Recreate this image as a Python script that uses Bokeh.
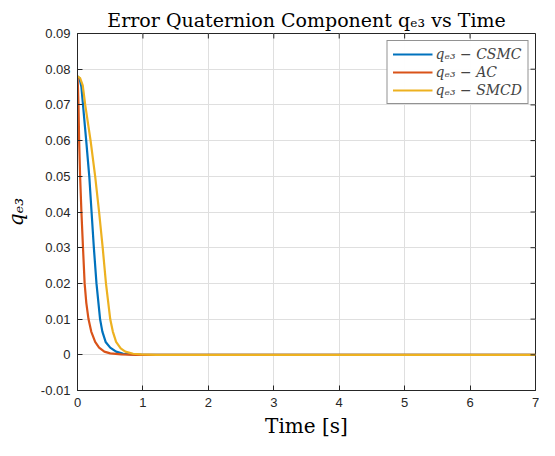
import math
from bokeh.plotting import figure
from bokeh.models import (FixedTicker, CustomJSTickFormatter, Range1d,
                          Legend, LegendItem)
from bokeh.embed import file_html
from bokeh.resources import INLINE

# ---- data ----
t_ac = [0, 0.005, 0.015, 0.025, 0.04, 0.06, 0.084, 0.109, 0.135, 0.168, 0.21,
        0.27, 0.33, 0.41, 0.5, 0.67, 0.9, 7.0]
q_ac = [0.078, 0.076, 0.07, 0.06, 0.05, 0.04, 0.03, 0.02, 0.0145, 0.01, 0.0065,
        0.0036, 0.002, 0.0009, 0.0004, 0.0001, 0.0, 0.0]

t_csmc = [0, 0.03, 0.06, 0.084, 0.133, 0.18, 0.215, 0.25, 0.29, 0.345, 0.38,
          0.43, 0.5, 0.59, 0.7, 0.82, 1.0, 7.0]
q_csmc = [0.078, 0.0775, 0.075, 0.07, 0.06, 0.05, 0.04, 0.03, 0.02, 0.01, 0.0065,
          0.0036, 0.002, 0.0009, 0.0003, 0.0001, 0.0, 0.0]

t_smcd = [0, 0.04, 0.08, 0.118, 0.2, 0.27, 0.33, 0.385, 0.435, 0.5, 0.54,
          0.59, 0.66, 0.73, 0.85, 0.97, 1.2, 7.0]
q_smcd = [0.078, 0.0775, 0.0755, 0.07, 0.06, 0.05, 0.04, 0.03, 0.02, 0.01, 0.0065,
          0.0036, 0.0018, 0.0009, 0.0003, 0.0001, 0.0, 0.0]

x_ticks = [0, 1, 2, 3, 4, 5, 6, 7]
y_ticks = [-0.01, 0, 0.01, 0.02, 0.03, 0.04, 0.05, 0.06, 0.07, 0.08, 0.09]

labels = ["q\u2091\u2083 \u2212 CSMC", "q\u2091\u2083 \u2212 AC", "q\u2091\u2083 \u2212 SMCD"]
colors = ["#0072BD", "#D95319", "#EDB120"]

X_MIN, X_MAX = 0, 7
Y_MIN, Y_MAX = -0.01, 0.09

p = figure(width=539, height=440, output_backend="svg", toolbar_location=None,
           x_range=Range1d(X_MIN, X_MAX), y_range=Range1d(Y_MIN, Y_MAX),
           min_border_left=76, min_border_right=4, min_border_top=33, min_border_bottom=50,
           title="Error Quaternion Component q\u2091\u2083 vs Time")

p.title.text_font = "DejaVu Serif"
p.title.text_font_size = "19px"
p.title.text_font_style = "normal"
p.title.align = "center"
p.title.text_color = "#000000"
p.title.offset = 0
p.title.standoff = 6

r1 = p.line(t_csmc, q_csmc, line_color=colors[0], line_width=2.2)
r2 = p.line(t_ac, q_ac, line_color=colors[1], line_width=2.2)
r3 = p.line(t_smcd, q_smcd, line_color=colors[2], line_width=2.2)

fmt = CustomJSTickFormatter(code="return tick == 0 ? '0' : tick.toFixed(2);")

for ax in (p.xaxis[0], p.yaxis[0]):
    ax.major_tick_in = 5
    ax.major_tick_out = 0
    ax.minor_tick_line_color = None
    ax.axis_line_color = "#262626"
    ax.major_tick_line_color = "#262626"
    ax.major_label_text_font = "Liberation Sans"
    ax.major_label_text_font_size = "13px"
    ax.major_label_text_color = "#262626"
    ax.axis_label_text_font = "DejaVu Serif"
    ax.axis_label_text_font_size = "20px"
    ax.axis_label_text_font_style = "normal"
    ax.axis_label_text_color = "#000000"

p.xaxis[0].ticker = FixedTicker(ticks=x_ticks)
p.yaxis[0].ticker = FixedTicker(ticks=y_ticks)
p.yaxis[0].formatter = fmt
p.xaxis[0].axis_label = "Time [s]"
p.xaxis[0].axis_label_standoff = 4
p.xaxis[0].major_label_standoff = 7
p.yaxis[0].axis_label = "q\u2091\u2083"
p.yaxis[0].axis_label_text_font_style = "italic"
p.yaxis[0].major_label_standoff = 7
p.yaxis[0].axis_label_standoff = 10

# inward ticks on the top and right sides of the box
p.ray(x=x_ticks, y=[Y_MAX] * len(x_ticks), length=5, length_units="screen",
      angle=-math.pi / 2, line_color="#262626", line_width=1)
p.ray(x=[X_MAX] * len(y_ticks), y=y_ticks, length=5, length_units="screen",
      angle=math.pi, line_color="#262626", line_width=1)

p.xgrid.ticker = FixedTicker(ticks=x_ticks)
p.ygrid.ticker = FixedTicker(ticks=y_ticks)
p.grid.grid_line_color = "#dfdfdf"
p.grid.grid_line_width = 1
p.outline_line_color = "#262626"

legend = Legend(items=[LegendItem(label=labels[0], renderers=[r1]),
                       LegendItem(label=labels[1], renderers=[r2]),
                       LegendItem(label=labels[2], renderers=[r3])],
                location="top_right")
legend.label_text_font = "DejaVu Serif"
legend.label_text_font_style = "italic"
legend.label_text_font_size = "14px"
legend.label_height = 14
legend.glyph_height = 14
legend.glyph_width = 40
legend.spacing = 2
legend.padding = 5
legend.margin = 7
legend.label_standoff = 3
legend.border_line_color = "#262626"
legend.border_line_width = 1
legend.background_fill_color = "white"
p.add_layout(legend)

open("out.html", "w").write(file_html(p, INLINE))
